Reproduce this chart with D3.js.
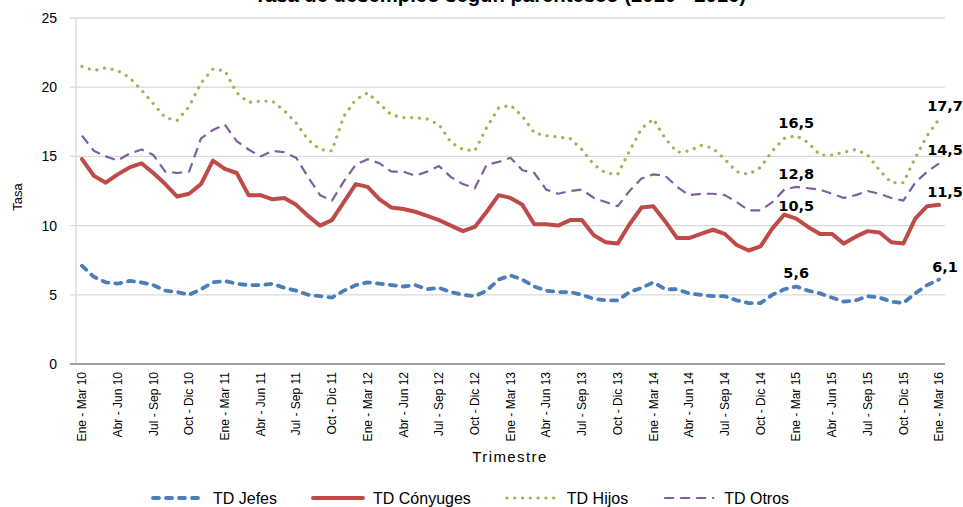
<!DOCTYPE html>
<html>
<head>
<meta charset="utf-8">
<script src="https://cdn.jsdelivr.net/npm/d3@7"></script>
<style>
  body { margin: 0; background: #fff; }
</style>
</head>
<body>
<div id="chart"></div>
<script>
// Rolling trimesters, Ene-Mar 10 .. Ene-Mar 16 (one point per month)
const months = ["Ene", "Feb", "Mar", "Abr", "May", "Jun", "Jul", "Ago", "Sep", "Oct", "Nov", "Dic"];
const categories = d3.range(73).map(i =>
    `${months[i % 12]} - ${months[(i + 2) % 12]} ${10 + Math.floor(i / 12)}`);
// only every third trimester gets a label
const tickLabels = categories.filter((c, i) => i % 3 === 0);

const yTicks = [0, 5, 10, 15, 20, 25];

const jefes = [7.1, 6.3, 5.9, 5.8, 6.0, 5.9, 5.7, 5.3, 5.2, 5.0,
    5.4, 5.9, 6.0, 5.8, 5.7, 5.7, 5.8, 5.5, 5.3, 5.0,
    4.9, 4.8, 5.3, 5.7, 5.9, 5.8, 5.7, 5.6, 5.7, 5.4,
    5.5, 5.2, 5.0, 4.9, 5.3, 6.1, 6.4, 6.1, 5.6, 5.3,
    5.2, 5.2, 5.0, 4.7, 4.6, 4.6, 5.2, 5.5, 5.9, 5.4,
    5.4, 5.1, 5.0, 4.9, 4.9, 4.6, 4.4, 4.4, 5.0, 5.4,
    5.6, 5.3, 5.1, 4.8, 4.5, 4.6, 4.9, 4.8, 4.5, 4.4,
    5.1, 5.7, 6.1];

const conyuges = [14.8, 13.6, 13.1, 13.7, 14.2, 14.5, 13.8, 13.0, 12.1, 12.3,
    13.0, 14.7, 14.1, 13.8, 12.2, 12.2, 11.9, 12.0, 11.5, 10.7,
    10.0, 10.4, 11.7, 13.0, 12.8, 11.9, 11.3, 11.2, 11.0, 10.7,
    10.4, 10.0, 9.6, 9.9, 11.0, 12.2, 12.0, 11.5, 10.1, 10.1,
    10.0, 10.4, 10.4, 9.3, 8.8, 8.7, 10.1, 11.3, 11.4, 10.3,
    9.1, 9.1, 9.4, 9.7, 9.4, 8.6, 8.2, 8.5, 9.8, 10.8,
    10.5, 9.9, 9.4, 9.4, 8.7, 9.2, 9.6, 9.5, 8.8, 8.7,
    10.5, 11.4, 11.5];

const hijos = [21.5, 21.2, 21.4, 21.2, 20.7, 19.8, 18.8, 17.8, 17.6, 18.6,
    20.3, 21.3, 21.2, 19.6, 18.9, 19.0, 19.0, 18.3, 17.4, 16.2,
    15.5, 15.4, 17.9, 19.1, 19.6, 18.8, 18.0, 17.8, 17.8, 17.7,
    17.3, 16.0, 15.5, 15.4, 17.1, 18.5, 18.7, 17.9, 16.7, 16.5,
    16.4, 16.3, 15.5, 14.4, 13.8, 13.7, 15.4, 17.0, 17.7, 16.3,
    15.3, 15.4, 15.8, 15.6, 14.8, 13.9, 13.7, 14.2, 15.4, 16.3,
    16.5, 16.0, 15.1, 15.1, 15.3, 15.5, 15.1, 14.0, 13.1, 13.1,
    14.9, 16.5, 17.7];

const otros = [16.5, 15.4, 15.0, 14.7, 15.2, 15.5, 15.1, 13.9, 13.8, 13.9,
    16.3, 16.9, 17.3, 16.1, 15.5, 15.0, 15.4, 15.3, 14.9, 13.5,
    12.2, 11.8, 13.2, 14.4, 14.8, 14.5, 13.9, 13.9, 13.6, 13.9,
    14.3, 13.5, 13.0, 12.7, 14.4, 14.6, 14.9, 14.0, 13.8, 12.6,
    12.3, 12.5, 12.6, 12.0, 11.7, 11.4, 12.5, 13.4, 13.7, 13.6,
    12.8, 12.2, 12.3, 12.3, 12.2, 11.7, 11.1, 11.1, 11.7, 12.6,
    12.8, 12.7, 12.6, 12.3, 12.0, 12.2, 12.5, 12.3, 12.0, 11.8,
    13.1, 13.9, 14.5];

const seriesNames = ["TD Jefes", "TD Cónyuges", "TD Hijos", "TD Otros"];
const seriesValues = [jefes, conyuges, hijos, otros];
// points that carry a value label (Ene-Mar 15 and Ene-Mar 16)
const labeledPoints = [60, 72];

const styles = [
    { color: "#4a7ebb", width: 3.8, dash: "6 7", cap: "round" },
    { color: "#be4b48", width: 4, dash: null, cap: "round" },
    { color: "#98b954", width: 3.2, dash: "0.1 7.7", cap: "round" },
    { color: "#7d60a0", width: 2.2, dash: "10 6", cap: "butt" }
];

const W = 963, H = 507;
const svg = d3.select("#chart").append("svg")
    .attr("width", W).attr("height", H)
    .style("font-family", "'Liberation Sans', Arial, sans-serif");

const x = d3.scalePoint().domain(categories).range([76, 945]).padding(0.5);
const y = d3.scaleLinear().domain([0, 25]).range([364, 18]);

// title, mostly cut off at the top edge
svg.append("text")
    .attr("x", 500).attr("y", 2)
    .attr("text-anchor", "middle")
    .attr("textLength", 492)
    .attr("lengthAdjust", "spacingAndGlyphs")
    .style("font-size", "21px").style("font-weight", "bold")
    .text("Tasa de desempleo según parentesco (2010 - 2016)");

// gridlines
svg.append("g").selectAll("line")
    .data(yTicks.filter(t => t > 0))
    .enter().append("line")
    .attr("x1", 70).attr("x2", 945)
    .attr("y1", d => y(d)).attr("y2", d => y(d))
    .attr("stroke", "#d9d9d9").attr("stroke-width", 1.3);

// y axis line
svg.append("line")
    .attr("x1", 76).attr("x2", 76).attr("y1", y(25)).attr("y2", y(0))
    .attr("stroke", "#d9d9d9").attr("stroke-width", 1.3);

// x axis line
svg.append("line")
    .attr("x1", 70).attr("x2", 945).attr("y1", y(0)).attr("y2", y(0))
    .attr("stroke", "#a0a0a0").attr("stroke-width", 2);

// y tick labels
svg.append("g").selectAll("text")
    .data(yTicks)
    .enter().append("text")
    .attr("x", 57).attr("y", d => y(d))
    .attr("dy", "0.35em")
    .attr("text-anchor", "end")
    .style("font-size", "14px")
    .text(d => d);

// x tick labels, rotated
svg.append("g").selectAll("text")
    .data(tickLabels)
    .enter().append("text")
    .attr("transform", d => `translate(${x(d)},372) rotate(-90)`)
    .attr("dy", "0.35em")
    .attr("text-anchor", "end")
    .style("font-size", "12px")
    .text(d => d);

// axis titles
svg.append("text")
    .attr("transform", "translate(22,197) rotate(-90)")
    .attr("text-anchor", "middle")
    .style("font-size", "13px")
    .text("Tasa");

svg.append("text")
    .attr("x", 510).attr("y", 462)
    .attr("text-anchor", "middle")
    .style("font-size", "15px")
    .style("letter-spacing", "1.4px")
    .text("Trimestre");

// series lines
const line = d3.line()
    .x((d, i) => x(categories[i]))
    .y(d => y(d));

seriesValues.forEach((vals, s) => {
    const st = styles[s];
    svg.append("path")
        .datum(vals)
        .attr("d", line)
        .attr("fill", "none")
        .attr("stroke", st.color)
        .attr("stroke-width", st.width)
        .attr("stroke-linecap", st.cap)
        .attr("stroke-linejoin", "round")
        .attr("stroke-dasharray", st.dash);
});

// value labels
const fmt = v => d3.format(".1f")(v).replace(".", ",");
seriesValues.forEach(vals => {
    labeledPoints.forEach(i => {
        svg.append("text")
            .attr("x", x(categories[i]) + (i === 72 ? 6 : 0))
            .attr("y", y(vals[i]) - 8)
            .attr("text-anchor", "middle")
            .style("font-family", "'DejaVu Sans', Verdana, sans-serif")
            .style("font-size", "14.5px")
            .style("font-weight", "bold")
            .style("fill", "#000")
            .text(fmt(vals[i]));
    });
});

// legend
const legend = svg.append("g");
let lx = 151;
seriesNames.forEach((name, s) => {
    const st = styles[s];
    const g = legend.append("g").attr("transform", `translate(${lx},498)`);
    g.append("line")
        .attr("x1", 2).attr("x2", 52)
        .attr("stroke", st.color)
        .attr("stroke-width", st.width)
        .attr("stroke-linecap", st.cap)
        .attr("stroke-dasharray", st.dash);
    const t = g.append("text")
        .attr("x", 62).attr("dy", "0.35em")
        .style("font-size", "16px")
        .text(name);
    lx += 62 + t.node().getComputedTextLength() + 34;
});
</script>
</body>
</html>
